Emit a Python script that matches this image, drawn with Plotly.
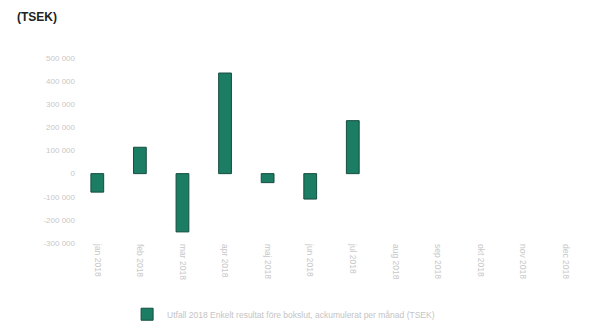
import plotly.graph_objects as go

# Monthly result 2018 (TSEK); only the first seven months are reported
months = ["jan 2018", "feb 2018", "mar 2018", "apr 2018", "maj 2018", "jun 2018",
          "jul 2018", "aug 2018", "sep 2018", "okt 2018", "nov 2018", "dec 2018"]
result = [-80000, 114000, -252000, 435000, -39000, -110000, 229000,
          None, None, None, None, None]
y_ticks = [-300000, -200000, -100000, 0, 100000, 200000, 300000, 400000, 500000]
y_tick_text = ["-300 000", "-200 000", "-100 000", "0", "100 000",
               "200 000", "300 000", "400 000", "500 000"]

fig = go.Figure()
fig.add_trace(go.Bar(
    x=months,
    y=result,
    name="Utfall 2018 Enkelt resultat före bokslut, ackumulerat per månad (TSEK)",
    marker=dict(color="#1b7d64", line=dict(color="#164d3f", width=1)),
    width=0.3,
))

fig.update_layout(
    width=596, height=325,
    margin=dict(l=76, r=9, t=58, b=82, autoexpand=False),
    paper_bgcolor="white", plot_bgcolor="white",
    font=dict(family="Liberation Sans, Arial, sans-serif", size=8, color="#c8c8c8"),
    showlegend=True,
    legend=dict(orientation="h", x=0.1, xanchor="left", y=-0.385, yanchor="middle",
                font=dict(size=8.5, color="#c4c4c4"), itemwidth=30),
    xaxis=dict(showgrid=False, zeroline=False, showline=False, tickangle=90,
               tickfont=dict(size=8.5, color="#c8c8c8"), ticks="", ticklen=6),
    yaxis=dict(range=[-300000, 500000], tickvals=y_ticks, ticktext=y_tick_text,
               showgrid=False, zeroline=False, showline=False,
               tickfont=dict(size=8, color="#c8c8c8")),
    annotations=[dict(text="<b>(TSEK)</b>", xref="paper", yref="paper",
                      x=-0.12, y=1.22, xanchor="left", yanchor="middle",
                      showarrow=False, font=dict(size=12, color="#222222"))],
)

fig.write_html("out.html")
